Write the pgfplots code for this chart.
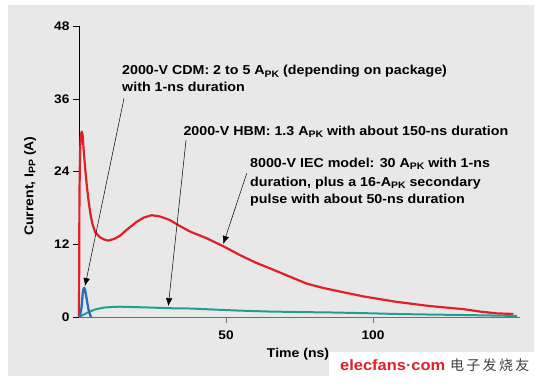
\documentclass[border=0pt]{standalone}
\usepackage{pgfplots}
\pgfplotsset{compat=1.18}
\usepackage{fontspec}
\setmainfont{Liberation Sans}[FakeStretch=1.1]
\newfontfamily\cjk{Noto Sans CJK SC}
\usetikzlibrary{arrows.meta}
\definecolor{bgGray}{RGB}{232,232,232}
\definecolor{cRed}{RGB}{226,30,38}
\definecolor{cTeal}{RGB}{32,158,148}
\definecolor{cBlue}{RGB}{38,110,185}
\definecolor{axGray}{RGB}{110,110,110}
\newcommand{\pk}[1]{\raisebox{-2.2bp}{\fontsize{9.5}{9.5}\selectfont #1}}
\newcommand{\annfont}{\fontsize{13}{16}\selectfont\bfseries}
\newcommand{\labfont}{\fontsize{12.8}{15}\selectfont\bfseries}
\begin{document}
\begin{tikzpicture}[x=1bp,y=1bp]
\fill[white] (0,0) rectangle (543,385);
\fill[bgGray] (8,9) rectangle (534,380);
\begin{axis}[
  at={(79bp,68bp)}, anchor=south west,
  scale only axis, width=441bp, height=290.8bp,
  xmin=0, xmax=150, ymin=0, ymax=48,
  axis x line*=bottom, axis y line*=left,
  x axis line style={axGray, line width=0.9pt},
  y axis line style={black, line width=0.8pt},
  xtick={50,100}, ytick={0,12,24,36,48},
  tick align=outside, major tick length=6bp,
  x tick style={axGray, line width=0.8pt},
  y tick style={black, line width=0.6pt},
  /pgf/number format/assume math mode=true,
  tick label style={font=\fontsize{12.5}{12.5}\selectfont\bfseries},
  xticklabel style={yshift=-4bp},
  xlabel={Time (ns)},
  ylabel={Current, I\pk{PP} (A)},
  every axis x label/.style={at={(axis description cs:0.4966,0)}, yshift=-37bp, anchor=center, font=\labfont},
  every axis y label/.style={at={(axis description cs:0,0.45)}, xshift=-49bp, rotate=90, anchor=center, font=\labfont},
  clip=false,
]
% 8000-V IEC model
\addplot[cRed, line width=2.2pt, line join=round] coordinates {
(0,0) (0.15,20) (0.35,27) (0.6,29.8) (0.9,30.6) (1.2,30.2) (1.6,27.5) (2.1,24.5)
(2.7,21.5) (3.3,19) (3.9,17) (4.6,15.3) (5.5,14) (7,13.2) (8.5,12.8) (10,12.6)
(12,12.9) (13.9,13.4) (16.5,14.5) (19.6,15.7) (22,16.4) (24.7,16.8) (27.5,16.6)
(30.9,16.0) (34,15.1) (37.8,14.1) (43.4,13.0) (49,11.7) (54.8,10.2) (60,9.0)
(66.1,7.8) (72,6.6) (77.5,5.5) (83,4.8) (88.8,4.2) (96.7,3.4) (108,2.5)
(119.4,1.8) (130.7,1.3) (136.4,0.9) (142,0.6) (147.7,0.5)
};
% 2000-V HBM
\addplot[cTeal, line width=2pt, line join=round] coordinates {
(0,0) (1,0.25) (2,0.5) (3.7,0.9) (5.5,1.25) (8.3,1.55) (11,1.65) (13.9,1.7)
(20,1.62) (25,1.55) (30.9,1.45) (38,1.4) (45,1.25) (54.8,1.05) (65,0.9)
(77.5,0.8) (85.4,0.75) (96,0.65) (108,0.5) (120,0.4) (130.7,0.33) (140,0.25) (149,0.17)
};
% 2000-V CDM
\addplot[cBlue, line width=2.3pt, line join=round] coordinates {
(0.2,0) (0.6,0.8) (0.9,1.7) (1.2,3.5) (1.5,4.6) (1.8,4.8) (2.1,4.4) (2.6,3.0)
(3.2,1.3) (3.8,0.3) (4.2,0)
};
% arrows
\draw[black, line width=0.5pt, -{Latex[length=8bp,width=6.5bp]}] (axis cs:15.31,36.1) -- (axis cs:2.04,5.1);
\draw[black, line width=0.5pt, -{Latex[length=8bp,width=6.5bp]}] (axis cs:36.4,29.2) -- (axis cs:30.37,1.8);
\draw[black, line width=0.5pt, -{Latex[length=8bp,width=6.5bp]}] (axis cs:57.04,23.7) -- (axis cs:49.08,12.05);
% annotations
\node[anchor=base west, inner sep=0pt, font=\annfont] at (axis cs:14.63,39.95) {2000-V CDM: 2 to 5 A\pk{PK} (depending on package)};
\node[anchor=base west, inner sep=0pt, font=\annfont] at (axis cs:14.63,37.19) {with 1-ns duration};
\node[anchor=base west, inner sep=0pt, font=\annfont] at (axis cs:35.48,30.04) {2000-V HBM: 1.3 A\pk{PK} with about 150-ns duration};
\node[anchor=base west, inner sep=0pt, font=\annfont] at (axis cs:58.16,24.65) {8000-V IEC model: 30 A\pk{PK} with 1-ns};
\node[anchor=base west, inner sep=0pt, font=\annfont] at (axis cs:58.16,21.62) {duration, plus a 16-A\pk{PK} secondary};
\node[anchor=base west, inner sep=0pt, font=\annfont] at (axis cs:58.16,18.70) {pulse with about 50-ns duration};
\end{axis}
% watermark
\fill[white] (329,9) rectangle (534,33);
\node[anchor=west, inner sep=0pt, text=cRed, font=\fontsize{15}{15}\selectfont\bfseries] at (340,20) {elecfans{\color{axGray}·}com};
\node[anchor=west, inner sep=0pt, text=black!75, font=\fontsize{14}{14}\selectfont\cjk] at (450,20) {电\,子\,发\,烧\,友};
\end{tikzpicture}
\end{document}
